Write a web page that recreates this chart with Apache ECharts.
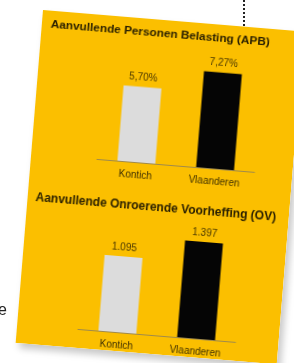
<!DOCTYPE html>
<html>
<head>
<meta charset="utf-8">
<script src="https://cdn.jsdelivr.net/npm/echarts@6/dist/echarts.min.js"></script>
<style>
  html, body { margin: 0; padding: 0; background: #fff; overflow: hidden; }
  #page { position: absolute; left: 0; top: 0; width: 294px; height: 363px; }
  #card {
    position: absolute; left: 43px; top: 10px; width: 262px; height: 334px;
    transform-origin: 0 0; transform: rotate(4.7deg);
    box-shadow: 4px 5px 7px rgba(0,0,0,0.22);
  }
</style>
</head>
<body>
<div id="page"></div>
<div id="card"></div>
<script>
// data
var categories = ['Kontich', 'Vlaanderen'];
var apbValues = [5.70, 7.27];      // Aanvullende Personen Belasting, %
var ovValues = [1095, 1397];       // Aanvullende Onroerende Voorheffing, opcentiemen
var apbTitle = 'Aanvullende Personen Belasting (APB)';
var ovTitle = 'Aanvullende Onroerende Voorheffing (OV)';
var barColors = ['#dcdcdc', '#050505'];

function fmtPct(v) { return v.toFixed(2).replace('.', ',') + '%'; }
function fmtThousands(v) { return String(v).replace(/\B(?=(\d{3})+(?!\d))/g, '.'); }

// page behind the card: dotted line and cut-off text
var pageChart = echarts.init(document.getElementById('page'));
pageChart.setOption({
  backgroundColor: '#fff',
  graphic: [
    {
      type: 'line',
      shape: { x1: 244, y1: 0, x2: 244, y2: 28 },
      style: { stroke: '#222', lineWidth: 2, lineDash: [2, 2] }
    },
    {
      type: 'text',
      x: -2, y: 311,
      style: { text: 'e', font: '16px "Liberation Sans"', fill: '#222', verticalAlign: 'middle' }
    }
  ]
});

var font = '"Liberation Sans", Arial, sans-serif';

function barSeries(values, axisIdx, fmt) {
  return {
    type: 'bar',
    xAxisIndex: axisIdx,
    yAxisIndex: axisIdx,
    barWidth: 38,
    data: values.map(function (v, i) {
      return { value: v, itemStyle: { color: barColors[i] } };
    }),
    label: {
      show: true,
      position: 'top',
      distance: 4,
      fontFamily: font,
      fontSize: 10,
      color: '#4a3800',
      formatter: function (p) { return fmt(p.value); }
    }
  };
}

function catAxis(idx) {
  return {
    type: 'category',
    gridIndex: idx,
    data: categories,
    axisTick: { show: false },
    axisLine: { lineStyle: { color: '#a08a4a', width: 1 } },
    axisLabel: { fontFamily: font, fontSize: 10, color: '#3f3000', margin: 8 }
  };
}

var cardChart = echarts.init(document.getElementById('card'));
cardChart.setOption({
  backgroundColor: '#fbbf00',
  animation: false,
  title: [
    {
      text: apbTitle, left: 4, top: 3,
      textStyle: { fontFamily: font, fontSize: 11.8, fontWeight: 'bold', color: '#2a2000' }
    },
    {
      text: ovTitle, left: 3, top: 177,
      textStyle: { fontFamily: font, fontSize: 12, fontWeight: 'bold', color: '#2a2000' }
    }
  ],
  grid: [
    { left: 66, width: 158, top: 38, height: 106 },
    { left: 61, width: 158, top: 204, height: 111 }
  ],
  xAxis: [catAxis(0), catAxis(1)],
  yAxis: [
    { type: 'value', gridIndex: 0, min: 0, max: 8, show: false },
    { type: 'value', gridIndex: 1, min: 0, max: 1600, show: false }
  ],
  series: [
    barSeries(apbValues, 0, fmtPct),
    barSeries(ovValues, 1, fmtThousands)
  ]
});
</script>
</body>
</html>
